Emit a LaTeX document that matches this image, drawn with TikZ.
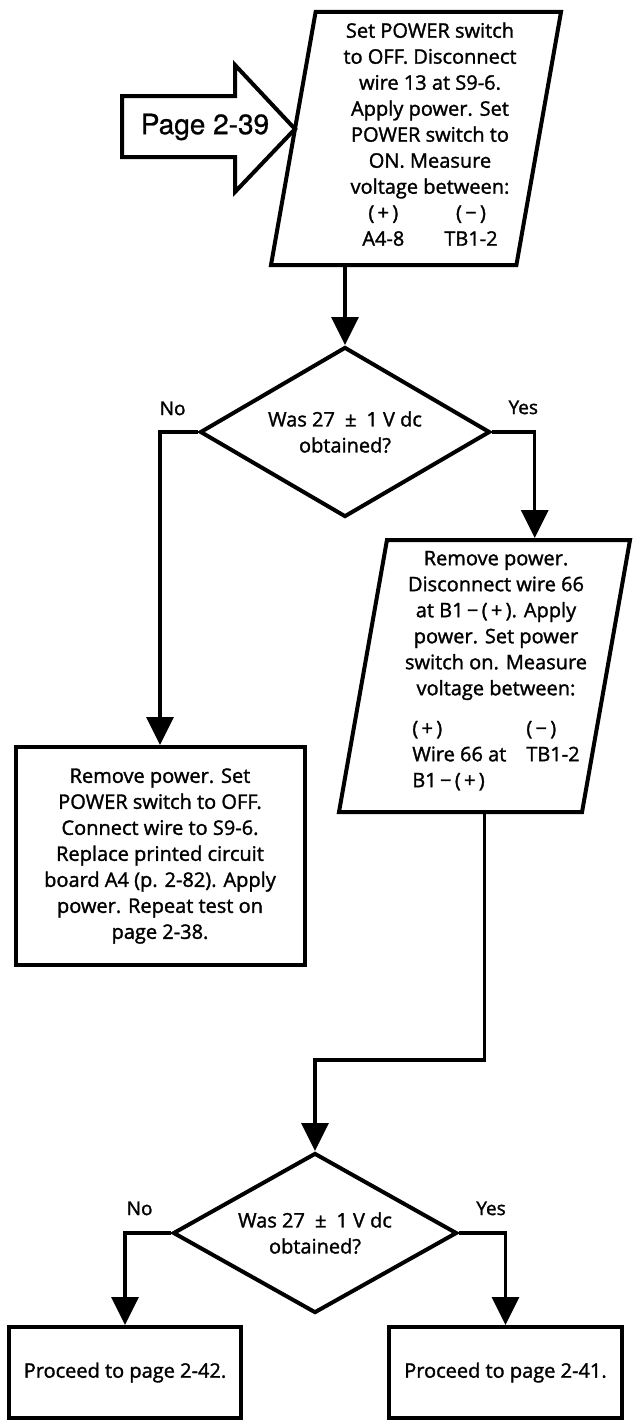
\documentclass[tikz,border=0pt]{standalone}
\usepackage{fontspec}
\setmainfont{Open Sans}[FakeBold=1.5]
\newfontfamily\helv{TeX Gyre Heros}[FakeBold=0.8]
\usetikzlibrary{shapes.geometric,arrows.meta,positioning}

\begin{document}
\begin{tikzpicture}[x=1pt,y=-1pt,font=\fontsize{20}{26}\selectfont,
  para/.style={trapezium,trapezium left angle=80,trapezium right angle=100,
               trapezium stretches body,draw,line width=4pt,inner sep=0pt,text depth=0pt},
  texte/.style={align=center,inner sep=0pt},
  test/.style={diamond,draw,line width=4pt,align=center,inner sep=0pt},
  carre/.style={rectangle,draw,line width=4pt,align=center},
  fleche/.style={-{Triangle[length=28pt,width=27pt]},line width=3.5pt},
  rep/.style={font=\fontsize{19}{22}\selectfont,inner sep=0pt}]

  \useasboundingbox (0,0) rectangle (632,1421);

  \node[para,text height=253pt,minimum width=290pt] (S1) at (416,138.5) {};
  \node[texte] (S1t) at (430,138) {
    Set POWER switch\\
    to OFF. Disconnect\\
    wire 13 at S9-6.\\
    Apply power. Set\\
    POWER switch to\\
    ON. Measure\\
    voltage between:\\
    \begin{tabular}[t]{@{}c@{\hspace{40pt}}c@{}}
      (\,+\,) & (\,−\,)\\
      A4-8 & TB1-2
    \end{tabular}
  };

  \coordinate (bout) at (295,129);
  \draw[line width=4pt] (122,96) -- (235,96) -- (235,65) -- (bout)
    -- (235,192) -- (235,157) -- (122,157) -- cycle;
  \node[font=\helv\fontsize{28}{30}\selectfont] (page) at (205,127) {Page 2-39};

  \node[test,aspect=1.7,minimum width=290pt,minimum height=170pt] (Q1) at (345,432) {
    Was 27\enspace±\enspace1 V dc\\
    obtained?
  };

  \node[carre,minimum width=289pt,minimum height=218pt] (A1) at (160,856) {
    Remove power. Set\\
    POWER switch to OFF.\\
    Connect wire to S9-6.\\
    Replace printed circuit\\
    board A4 (p. 2-82). Apply\\
    power. Repeat test on\\
    page 2-38.
  };

  \node[para,text height=272pt,minimum width=291pt] (S2) at (484.5,676) {};
  \node[texte] (S2t) at (496,673) {
    Remove power.\\
    Disconnect wire 66\\
    at B1\,−\,(\,+\,). Apply\\
    power. Set power\\
    switch on. Measure\\
    voltage between:\\[14pt]
    \begin{tabular}[t]{@{}l@{\hspace{20pt}}l@{}}
      (\,+\,) & (\,−\,)\\
      Wire 66 at & TB1-2\\
      B1\,−\,(\,+\,) &
    \end{tabular}
  };

  \node[test,aspect=1.775,minimum width=284pt,minimum height=160pt] (Q2) at (315,1233) {
    Was 27\enspace±\enspace1 V dc\\
    obtained?
  };

  \node[carre,minimum width=232pt,minimum height=91pt] (A2) at (125,1372.5) {Proceed to page 2-42.};
  \node[carre,minimum width=233pt,minimum height=91pt] (A3) at (505.5,1372.5) {Proceed to page 2-41.};

  \draw[fleche] (Q1.north |- S1.south) -- (Q1.north);
  \draw[fleche] (Q1.west) -| node[rep,pos=0.5,anchor=south west,yshift=15pt,xshift=-2pt] {No} (A1.north);
  \draw[fleche] (Q1.east) -| node[rep,pos=0.5,anchor=south east,yshift=16pt,xshift=5pt] {Yes} (S2.70);
  \draw[fleche] (S2.270) -- ++(0,246) -| (Q2.north);
  \draw[fleche] (Q2.west) -| node[rep,pos=0.5,anchor=south west,yshift=16pt] {No} (A2.north);
  \draw[fleche] (Q2.east) -| node[rep,pos=0.5,anchor=south east,yshift=16pt,xshift=2pt] {Yes} (A3.north);
\end{tikzpicture}
\end{document}
